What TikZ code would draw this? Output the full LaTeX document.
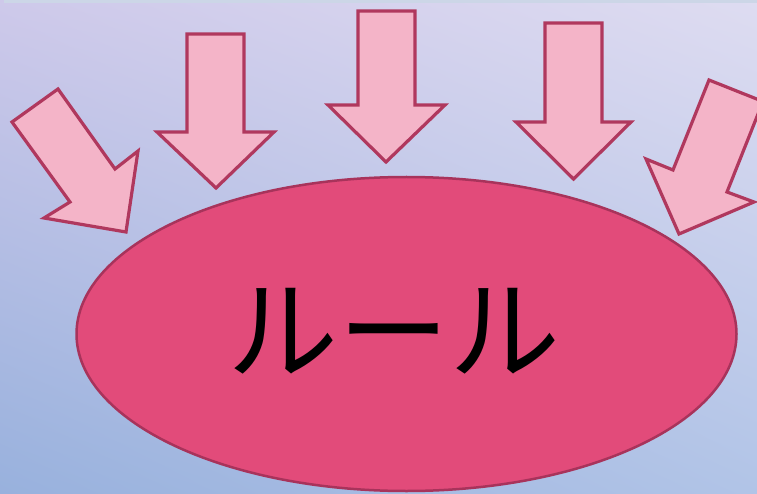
\documentclass[tikz,border=0pt]{standalone}
\usepackage{fontspec}
\newfontfamily\cjk{Noto Sans CJK JP}
\usetikzlibrary{shapes.geometric,shadings}
\definecolor{bgTL}{HTML}{CEC9EA}
\definecolor{bgTR}{HTML}{DEDCF1}
\definecolor{bgBL}{HTML}{98B1DD}
\definecolor{bgBR}{HTML}{B1C4E7}
\definecolor{strip}{HTML}{CCD6E7}
\definecolor{ellfill}{HTML}{E24B7A}
\definecolor{elldraw}{HTML}{A8335B}
\definecolor{arrfill}{HTML}{F4B4C8}
\definecolor{arrdraw}{HTML}{B0385E}
\tikzset{
  blockarrow/.style={fill=arrfill, draw=arrdraw, line width=3.2pt, line join=miter},
  rulebox/.style={ellipse, fill=ellfill, draw=elldraw, line width=2.5pt, inner sep=0pt,
    minimum width=660pt, minimum height=314pt}
}
\begin{document}
\begin{tikzpicture}[x=1pt,y=-1pt]
  \useasboundingbox (0,0) rectangle (757,494);
  \clip (0,0) rectangle (757,494);
  \shade[upper left=bgTL, upper right=bgTR, lower left=bgBL, lower right=bgBR]
    (0,0) rectangle (757,494);
  \fill[strip] (4,0) rectangle (757,3);
  % arrows
  \draw[blockarrow] (58,89) -- (115,169) -- (138,151) -- (126,232) -- (44,218) -- (70,202) -- (12,122) -- cycle;
  \draw[blockarrow] (187,34) -- (244,34) -- (244,132) -- (274,132) -- (216,188) -- (157,132) -- (187,132) -- cycle;
  \draw[blockarrow] (358,11) -- (415,11) -- (415,105) -- (445,105) -- (386,162) -- (328,105) -- (358,105) -- cycle;
  \draw[blockarrow] (545,23) -- (602,23) -- (602,122) -- (631,122) -- (573.5,179) -- (516,122) -- (545,122) -- cycle;
  \draw[blockarrow] (709,80) -- (763,101.5) -- (727,192) -- (754,202) -- (679,234) -- (646,159) -- (673,170) -- cycle;
  % ellipse
  \node[rulebox] (rule) at (406.5,334) {};
  \node[inner sep=0pt, font=\cjk\fontsize{111}{115}\selectfont] (label) at (394,331) {ルール};
\end{tikzpicture}
\end{document}
